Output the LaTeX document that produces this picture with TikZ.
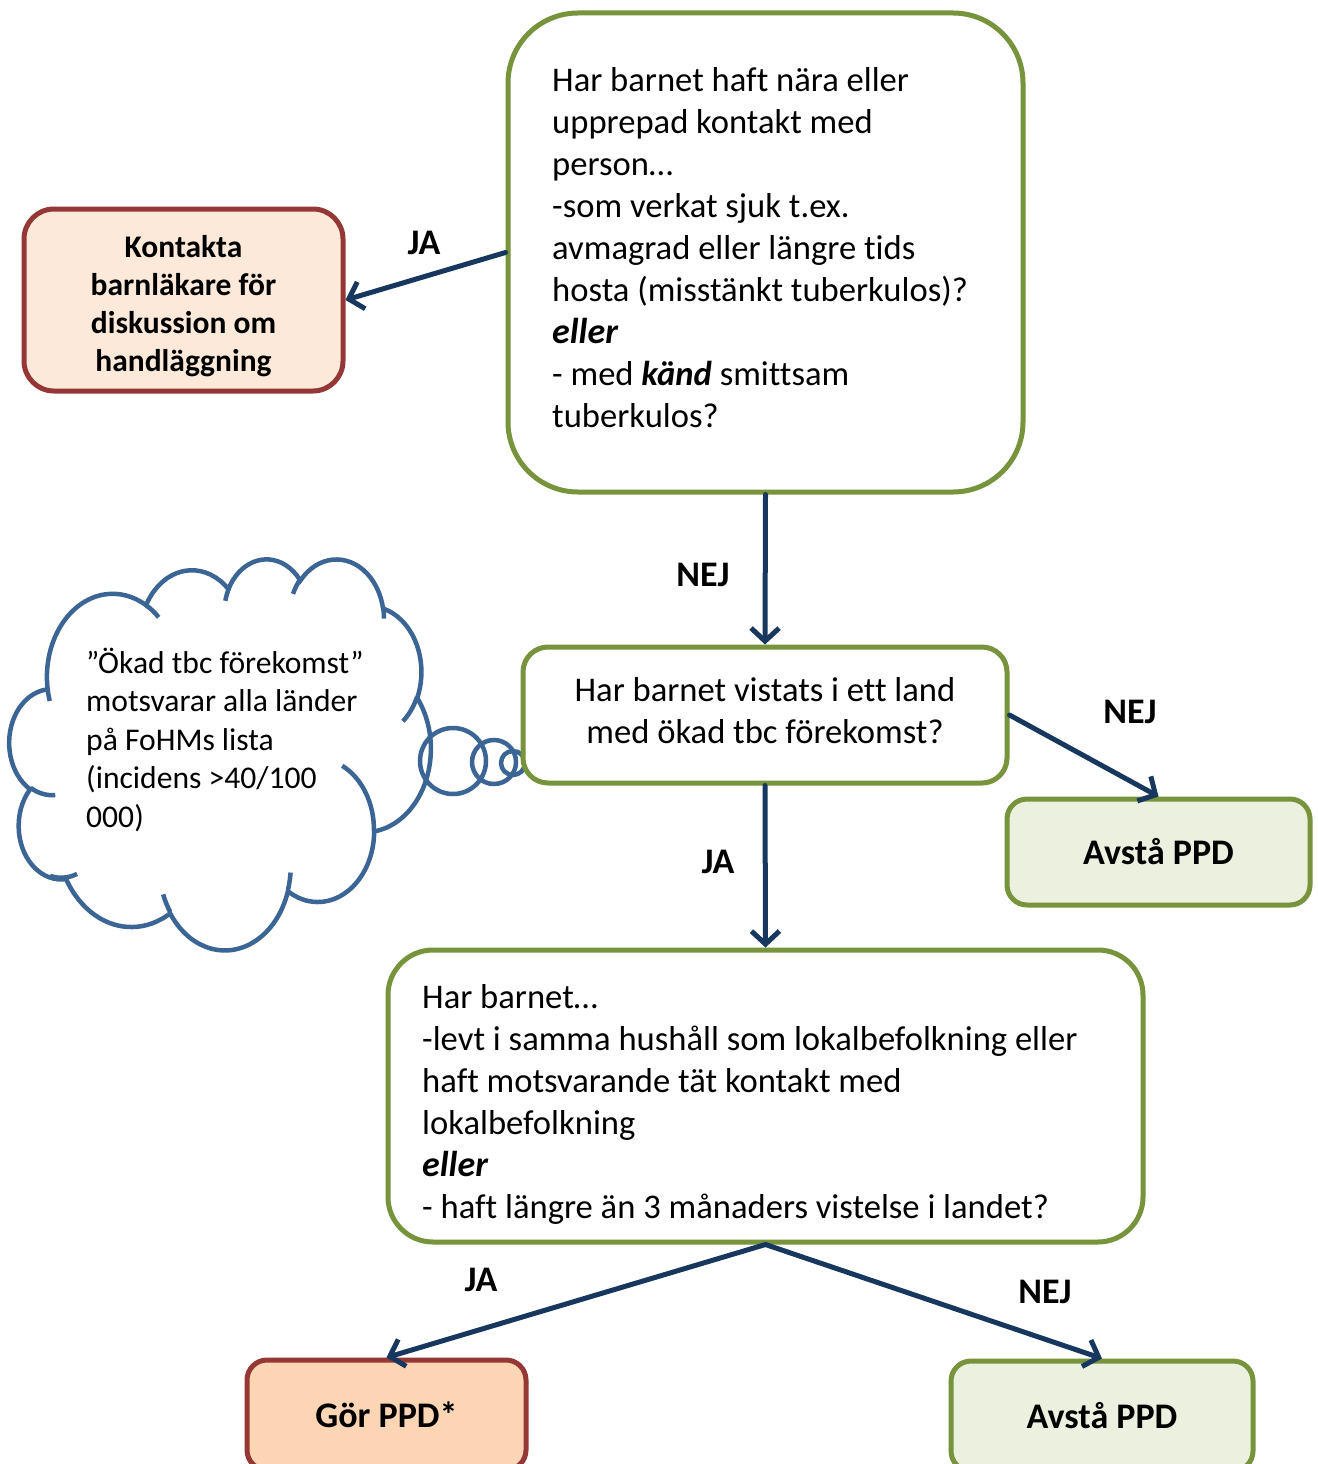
\documentclass[tikz,border=0pt]{standalone}
\usepackage{fontspec}
\setmainfont{Carlito}[Ligatures=CommonOff]
\usetikzlibrary{arrows.meta}
\definecolor{bgreen}{HTML}{77933C}
\definecolor{bred}{HTML}{953735}
\definecolor{lpeach}{HTML}{FDE9D9}
\definecolor{dpeach}{HTML}{FCD5B5}
\definecolor{lgreen}{HTML}{EBF1DE}
\definecolor{navy}{HTML}{17375E}
\definecolor{cblue}{HTML}{3B6595}
\newcommand{\fmain}{\fontsize{34.6}{42}\selectfont}
\newcommand{\flab}{\fontsize{36}{43}\selectfont\bfseries}
\newcommand{\fred}{\fontsize{31.5}{38}\selectfont\bfseries}
\newcommand{\fcloud}{\fontsize{31.6}{38.5}\selectfont}
\newcommand{\bigem}[1]{{\fontsize{36}{42}\selectfont\bfseries\itshape #1}}
\begin{document}
\begin{tikzpicture}[x=1pt,y=-1pt,
  declare function={pt(\a,\w,\h)=atan2(\w*sin(\a),\h*cos(\a));
    dl(\a,\s,\w,\h)=\s+mod(pt(\a+\s,\w,\h)-pt(\a,\w,\h)-\s+540,360)-180;},
  oarc/.style args={#1/#2/#3/#4}{start angle={pt(#1,#3,#4)}, delta angle={dl(#1,#2,#3,#4)}, x radius=#3, y radius=#4},
  box/.style={draw, line width=5pt, inner sep=0pt},
  gbox/.style={box, draw=bgreen, fill=white},
  rbox/.style={box, draw=bred},
  abox/.style={box, draw=bgreen, fill=lgreen, font=\flab},
  txt/.style={inner sep=0pt, font=\fmain},
  lab/.style={font=\flab, inner sep=0pt},
  arr/.style={draw=navy, line width=5pt, line cap=round, -{Straight Barb[length=13pt,width=28pt]}},
  bub/.style={circle, draw=cblue, line width=4.5pt, inner sep=0pt},
  cl/.style={draw=cblue, line width=4.5pt}]
\useasboundingbox (0,0) rectangle (1317,1464);
\clip (0,0) rectangle (1317,1464);

% cloud (PowerPoint-like outline)
\begin{scope}[shift={(9.5,558.1)}, x=0.975pt, y=-0.9049pt]
\draw[cl, fill=white] (39.00,143.70)
  arc[oarc=-190.4875/123.7805/67.53/91.90]
  arc[oarc=-144.1024/89.9452/53.33/72.67]
  arc[oarc=-145.8079/99.7230/43.65/59.45]
  arc[oarc=-130.9861/117.2417/48.57/65.95]
  arc[oarc=-78.7089/109.0269/53.33/72.73]
  arc[oarc=-46.2673/130.2690/67.75/92.20]
  arc[oarc=0.6250/114.0333/57.85/78.67]
  arc[oarc=22.4516/115.1726/67.52/92.15]
  arc[oarc=66.2426/75.7110/77.20/105.43]
  arc[oarc=-274.9421/146.7356/43.60/59.18]
  arc[oarc=-246.8286/152.5189/43.45/59.45]
  -- cycle;
\draw[cl] (46.93,261.77) arc[oarc=86.742/26.4295/43.45/59.45];
\draw[cl] (69.28,348.99) arc[oarc=73.6077/27.6953/43.60/59.18];
\draw[cl] (164.78,390.90) arc[oarc=137.6242/15.6025/67.52/92.15];
\draw[cl] (288.27,347.51) arc[oarc=6.4533/15.9984/67.52/92.15];
\draw[cl] (341.29,229.54) arc[oarc=-70.2924/70.9174/57.85/78.67];
\draw[cl] (417.98,153.54) arc[oarc=30.3180/27.7515/53.33/72.73];
\draw[cl] (383.24,54.26) arc[oarc=-13.7443/14.8589/48.57/65.95];
\draw[cl] (290.78,39.52) arc[oarc=-149.1815/18.1954/48.57/65.95];
\draw[cl] (221.41,47.20) arc[oarc=-163.4943/17.6864/43.65/59.45];
\draw[cl] (140.00,51.92) arc[oarc=-66.7070/12.3194/67.53/91.90];
\draw[cl] (41.27,157.89) arc[oarc=157.6544/11.8582/67.53/91.90];
\end{scope}
\node[align=left, font=\fcloud, anchor=west, inner sep=0pt] (ctext) at (86,740) {”Ökad tbc förekomst”\\motsvarar alla länder\\på FoHMs lista\\(incidens >40/100\\000)};
\node[bub, minimum size=66pt] (b1) at (453,761) {};
\node[bub, minimum size=44pt] (b2) at (494,762) {};
\node[bub, minimum size=24pt] (b3) at (513,763) {};

% boxes
\node[gbox, rounded corners=70pt, minimum width=515pt, minimum height=479pt] (q1) at (765.5,252.5) {};
\node[txt, anchor=west, align=left] (q1t) at (552,248)
 {Har barnet haft nära eller\\upprepad kontakt med\\person…\\-som verkat sjuk t.ex.\\avmagrad eller längre tids\\hosta (misstänkt tuberkulos)?\\\bigem{eller}\\- med \textbf{\textit{känd}} smittsam\\tuberkulos?};
\node[rbox, fill=lpeach, rounded corners=30pt, minimum width=319pt, minimum height=182pt] (kont) at (183.5,300) {};
\node[inner sep=0pt, align=center, font=\fred] (kontt) at (183.5,306) {Kontakta\\barnläkare för\\diskussion om\\handläggning};
\node[gbox, rounded corners=25pt, minimum width=484pt, minimum height=136pt] (q2) at (765,715) {};
\node[txt, align=center] (q2t) at (765,710.5) {Har barnet vistats i ett land\\med ökad tbc förekomst?};
\node[abox, rounded corners=20pt, minimum width=303pt, minimum height=106pt] (av1) at (1158.5,852) {\raisebox{-2pt}{Avstå PPD}};
\node[gbox, rounded corners=45pt, minimum width=755pt, minimum height=292pt] (q3) at (765.5,1096) {};
\node[txt, anchor=west, align=left] (q3t) at (422,1104)
 {Har barnet…\\-levt i samma hushåll som lokalbefolkning eller\\haft motsvarande tät kontakt med\\lokalbefolkning\\\bigem{eller}\\- haft längre än 3 månaders vistelse i landet?};
\node[rbox, fill=dpeach, font=\flab, rounded corners=20pt, minimum width=279pt, minimum height=110pt] (gor) at (386.5,1415) {Gör PPD*};
\node[abox, rounded corners=20pt, minimum width=302pt, minimum height=110pt] (av2) at (1102,1416) {Avstå PPD};

% connectors
\draw[arr] (q1.west) -- (kont.east);
\draw[arr] (q1.south) -- (q2.north);
\draw[arr] (q2.east) -- (av1.north);
\draw[arr] (q2.south) -- (q3.north);
\draw[arr] (q3.south) -- (gor.north);
\draw[arr] (q3.south) -- (av2.north);

% labels
\node[lab] (l1) at (424,243) {JA};
\node[lab] (l2) at (703,575) {NEJ};
\node[lab] (l3) at (1130,712) {NEJ};
\node[lab] (l4) at (718,862) {JA};
\node[lab] (l5) at (481,1280) {JA};
\node[lab] (l6) at (1045,1292) {NEJ};
\end{tikzpicture}
\end{document}
